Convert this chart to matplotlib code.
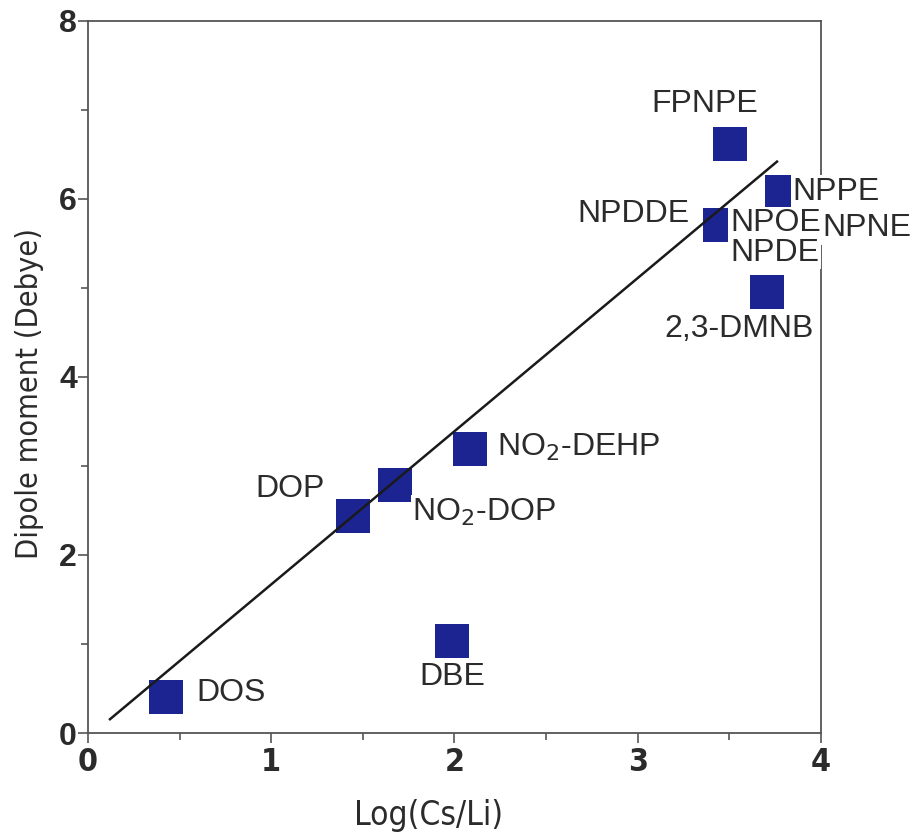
import numpy as np
import matplotlib.pyplot as plt
from matplotlib.ticker import MultipleLocator
from matplotlib import font_manager

# data
names = ['DOS', 'DOP', r'NO$_2$-DOP', r'NO$_2$-DEHP', 'DBE', 'FPNPE',
         'NPPE', 'NPNE', 'NPDDE', 'NPOE', 'NPDE', '2,3-DMNB']
log_cs_li = [0.426, 1.446, 1.678, 2.087, 1.986, 3.503,
             3.790, 3.790, 3.451, 3.451, 3.451, 3.703]
dipole = [0.40, 2.44, 2.79, 3.19, 1.03, 6.62,
          6.08, 6.08, 5.71, 5.71, 5.71, 4.955]
# label offsets (points) and alignment
offsets = [(22, 3), (-20, 19), (12, -20), (19, 1), (0, -26), (-18, 29),
           (7, 0), (29, -26), (-22, 8), (7, 1), (7, -20), (-20, -27)]
aligns = ['left', 'right', 'left', 'left', 'center', 'center',
          'left', 'left', 'right', 'left', 'left', 'center']

# fitted line end points
fit_x = [0.12, 3.76]
fit_y = [0.155, 6.42]

# narrow font for axis titles / x ticks if one is around
names_avail = {f.name for f in font_manager.fontManager.ttflist}
if 'Liberation Sans Narrow' in names_avail:
    narrow = dict(family='Liberation Sans Narrow')
else:
    narrow = dict(family='DejaVu Sans', stretch='condensed')

txt = '#2b2b2b'
fig = plt.figure(figsize=(9.13, 8.36), dpi=100)
ax = fig.add_axes([0.0964, 0.1232, 0.8028, 0.8517])

ax.plot(log_cs_li, dipole, 's', color='#1b2490', markersize=24.5,
        markeredgewidth=0, zorder=2)
ax.plot(fit_x, fit_y, color='#1a1a1a', lw=1.8, zorder=4)

for n, x, y, off, ha in zip(names, log_cs_li, dipole, offsets, aligns):
    ax.annotate(n, (x, y), xytext=off, textcoords='offset points',
                ha=ha, va='center', fontsize=23, color=txt,
                family='Liberation Sans', annotation_clip=False, zorder=3,
                bbox=dict(boxstyle='square,pad=0.05', fc='white', ec='none'))

ax.set_xlim(0, 4)
ax.set_ylim(0, 8)
ax.xaxis.set_major_locator(MultipleLocator(1))
ax.xaxis.set_minor_locator(MultipleLocator(0.5))
ax.yaxis.set_major_locator(MultipleLocator(2))
ax.yaxis.set_minor_locator(MultipleLocator(1))
ax.tick_params(which='both', direction='out', color='#555555', width=1.2,
               top=False, right=False)
ax.tick_params(which='major', length=7)
ax.tick_params(axis='y', which='major', pad=1)
ax.tick_params(axis='x', which='major', pad=3)
ax.tick_params(which='minor', length=5)
for s in ax.spines.values():
    s.set_color('#555555')
    s.set_linewidth(1.3)

for lab in ax.get_xticklabels():
    lab.set(**narrow)
    lab.set_fontweight('bold')
    lab.set_fontsize(23)
    lab.set_color(txt)
for lab in ax.get_yticklabels():
    lab.set_family('Liberation Sans')
    lab.set_fontweight('bold')
    lab.set_fontsize(23)
    lab.set_color(txt)

ax.set_xlabel('Log(Cs/Li)', fontsize=24, color=txt, **narrow)
ax.set_ylabel('Dipole moment (Debye)', fontsize=22, color=txt, **narrow)
ax.xaxis.set_label_coords(0.465, -0.093)
ax.yaxis.set_label_coords(-0.06, 0.4775)

fig.savefig('out.png', dpi=100)
